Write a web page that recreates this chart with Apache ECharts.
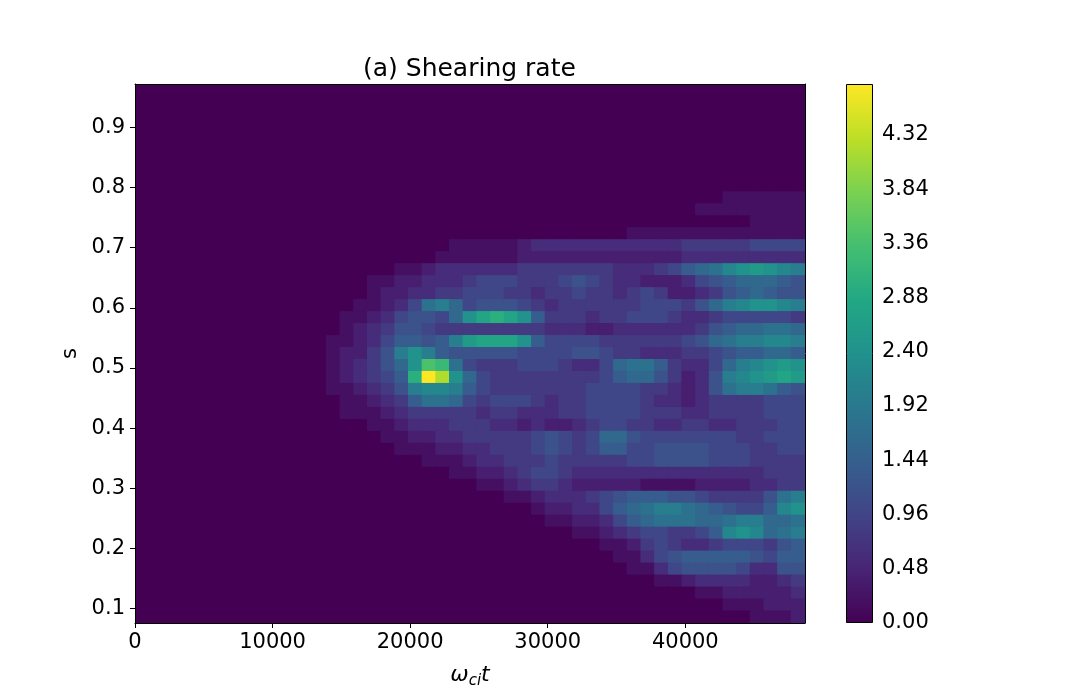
<!DOCTYPE html>
<html>
<head>
<meta charset="utf-8">
<script src="https://cdn.jsdelivr.net/npm/echarts@6/dist/echarts.min.js"></script>
<style>
html, body { margin: 0; background: #fff; }
#container { width: 1080px; height: 700px; }
</style>
</head>
<body>
<div id="container"></div>
<script>
// axis extents
const tMax = 48700;
const sMin = 0.076;
const sMax = 0.972;
const rateMax = 4.77;

const xTicks = [0, 10000, 20000, 30000, 40000];
const yTicks = [0.1, 0.2, 0.3, 0.4, 0.5, 0.6, 0.7, 0.8, 0.9];
const cbTicks = [0, 0.48, 0.96, 1.44, 1.92, 2.4, 2.88, 3.36, 3.84, 4.32];

// shearing rate, one string per s-row (top to bottom), one char per 1/49 of the time axis.
// base-36 digit, each step = 0.2 (spaces only group the columns by 7)
const rateStep = 0.2;
const rateRows = [
	'0000000 0000000 0000000 0000000 0000000 0000000 0000000',
	'0000000 0000000 0000000 0000000 0000000 0000000 0000000',
	'0000000 0000000 0000000 0000000 0000000 0000000 0000000',
	'0000000 0000000 0000000 0000000 0000000 0000000 0000000',
	'0000000 0000000 0000000 0000000 0000000 0000000 0000000',
	'0000000 0000000 0000000 0000000 0000000 0000000 0000000',
	'0000000 0000000 0000000 0000000 0000000 0000000 0000000',
	'0000000 0000000 0000000 0000000 0000000 0000000 0000000',
	'0000000 0000000 0000000 0000000 0000000 0000000 0000000',
	'0000000 0000000 0000000 0000000 0000000 0000000 0111111',
	'0000000 0000000 0000000 0000000 0000000 0000001 1111111',
	'0000000 0000000 0000000 0000000 0000000 0000000 0001111',
	'0000000 0000000 0000000 0000000 0000000 0111111 1111111',
	'0000000 0000000 0000000 0011111 2333333 3333344 4445555',
	'0000000 0000000 0000000 0111111 2222222 2222233 3333333',
	'0000000 0000000 0000011 2333333 4444444 3334578 9bcdcba',
	'0000000 0000000 0001122 3334555 4445654 3322235 6788876',
	'0000000 0000000 0001223 3445554 4344544 3454223 4678766',
	'0000000 0000000 0011235 9a85666 5434444 4455546 8abccba',
	'0000000 0000000 0112356 658cefe c744434 4555433 4555554',
	'0000000 0000000 0123466 5444444 4433322 3333334 6788998',
	'0000000 0000000 1123577 67adeee c755554 4444456 89aabba',
	'0000000 0000000 12246ac a766666 5555665 4433344 5677887',
	'0000000 0000000 123468c hg95444 5554335 8997433 58abcdc',
	'0000000 0000000 123457f olc8544 4444445 7886423 6abcded',
	'0000000 0000000 112346a bba7544 4444455 5544323 69aa976',
	'0000000 0000000 0112347 9985455 5434455 5543323 4444555',
	'0000000 0000000 0111234 4444344 3334455 5544433 4444555',
	'0000000 0000000 0001123 3344433 2322345 5443344 3344455',
	'0000000 0000000 0000112 2334444 4565458 8655555 5544555',
	'0000000 0000000 0000011 1223344 4565457 7556666 5554455',
	'0000000 0000000 0000000 1112334 4454444 4556666 5554444',
	'0000000 0000000 0000000 0011223 4554333 3333333 3333444',
	'0000000 0000000 0000000 0000112 3443222 2211112 2223344',
	'0000000 0000000 0000000 0000001 1233345 6777665 444469a',
	'0000000 0000000 0000000 0000000 0122335 789aa98 76557bc',
	'0000000 0000000 0000000 0000000 0011223 5789998 89aa889',
	'0000000 0000000 0000000 0000000 0000112 3455445 7bcb89a',
	'0000000 0000000 0000000 0000000 0000001 1245433 4555467',
	'0000000 0000000 0000000 0000000 0000000 1135677 7776577',
	'0000000 0000000 0000000 0000000 0000000 0113566 6653366',
	'0000000 0000000 0000000 0000000 0000000 0001123 3332234',
	'0000000 0000000 0000000 0000000 0000000 0000001 1222223',
	'0000000 0000000 0000000 0000000 0000000 0000000 0111222',
	'0000000 0000000 0000000 0000000 0000000 0000000 0001112',
];

const viridis = ['#440154', '#482475', '#414487', '#355f8d', '#2a788e', '#21918c',
	'#22a884', '#44bf70', '#7ad151', '#bddf26', '#fde725'];

const grid = rateRows.map((r) => r.replace(/ /g, ''));
const nx = grid[0].length;
const ny = grid.length;
const dt = tMax / nx;
const ds = (sMax - sMin) / ny;
const cells = [];
grid.forEach((r, j) => {
	r.split('').forEach((c, i) => {
		cells.push([(i + 0.5) * dt, sMax - (j + 0.5) * ds, parseInt(c, 36) * rateStep]);
	});
});

const font = 'DejaVu Sans';
const black = { color: '#000', width: 1 };

const dom = document.getElementById('container');
const myChart = echarts.init(dom);

function renderCell(params, api) {
	const t = api.value(0);
	const s = api.value(1);
	const a = api.coord([t - dt / 2, s + ds / 2]);
	const b = api.coord([t + dt / 2, s - ds / 2]);
	return {
		type: 'rect',
		shape: { x: a[0] - 0.5, y: a[1] - 0.5, width: b[0] - a[0] + 1, height: b[1] - a[1] + 1 },
		style: { fill: api.visual('color') },
	};
}

const option = {
	animation: false,
	textStyle: { fontFamily: font },
	title: {
		text: '(a) Shearing rate',
		left: 358,
		top: 52,
		textStyle: { fontFamily: font, fontSize: 25, fontWeight: 'normal', color: '#000' },
	},
	grid: [
		{ left: 135, top: 84, width: 670, height: 539 },
		{ left: 846, top: 84, width: 27, height: 539 },
	],
	visualMap: {
		type: 'continuous',
		show: false,
		seriesIndex: 0,
		dimension: 2,
		min: 0,
		max: rateMax,
		inRange: { color: viridis },
	},
	xAxis: [
		{
			type: 'value', gridIndex: 0, min: 0, max: tMax, position: 'bottom', z: 10,
			axisLine: { onZero: false, lineStyle: black },
			axisTick: { customValues: xTicks, length: 5, lineStyle: black },
			axisLabel: {
				customValues: xTicks, fontSize: 21, color: '#000', margin: 9, fontFamily: font,
				formatter: (v) => String(v),
			},
			splitLine: { show: false },
			name: '{w|ω}{s|ci}{w|t}',
			nameLocation: 'middle',
			nameGap: 39,
			nameTextStyle: {
				rich: {
					w: { fontSize: 22, fontStyle: 'italic', fontFamily: font, color: '#000' },
					s: { fontSize: 15, fontStyle: 'italic', fontFamily: font, color: '#000', padding: [12, 0, 0, 0] },
				},
			},
		},
		{
			type: 'value', gridIndex: 0, min: 0, max: tMax, position: 'top', z: 10,
			axisLine: { onZero: false, lineStyle: black },
			axisTick: { show: false }, axisLabel: { show: false }, splitLine: { show: false },
		},
		{ type: 'category', gridIndex: 1, data: [''], show: false },
	],
	yAxis: [
		{
			type: 'value', gridIndex: 0, min: sMin, max: sMax, position: 'left', z: 10,
			axisLine: { onZero: false, lineStyle: black },
			axisTick: { customValues: yTicks, length: 5, lineStyle: black },
			axisLabel: {
				customValues: yTicks, fontSize: 21, color: '#000', margin: 10, fontFamily: font,
				formatter: (v) => v.toFixed(1),
			},
			splitLine: { show: false },
			name: 's',
			nameLocation: 'middle',
			nameGap: 51,
			nameTextStyle: { fontSize: 21, color: '#000', fontFamily: font },
		},
		{
			type: 'value', gridIndex: 0, min: sMin, max: sMax, position: 'right', z: 10,
			axisLine: { onZero: false, lineStyle: black },
			axisTick: { show: false }, axisLabel: { show: false }, splitLine: { show: false },
		},
		{
			type: 'value', gridIndex: 1, min: 0, max: rateMax, position: 'right', z: 10,
			axisLine: { show: false },
			axisTick: { customValues: cbTicks, length: 5, lineStyle: black },
			axisLabel: {
				customValues: cbTicks, fontSize: 21, color: '#000', margin: 9, fontFamily: font,
				formatter: (v) => v.toFixed(2),
			},
			splitLine: { show: false },
		},
	],
	series: [
		{
			type: 'custom',
			xAxisIndex: 0,
			yAxisIndex: 0,
			data: cells,
			encode: { x: 0, y: 1 },
			renderItem: renderCell,
			clip: true,
			silent: true,
		},
		{
			type: 'bar',
			xAxisIndex: 2,
			yAxisIndex: 2,
			data: [rateMax],
			barWidth: '100%',
			silent: true,
			itemStyle: {
				color: new echarts.graphic.LinearGradient(0, 1, 0, 0,
					viridis.map((c, i) => ({ offset: i / (viridis.length - 1), color: c }))),
				borderColor: '#000',
				borderWidth: 1,
			},
		},
	],
};

if (option && typeof option === 'object') {
	myChart.setOption(option);
}
</script>
</body>
</html>
